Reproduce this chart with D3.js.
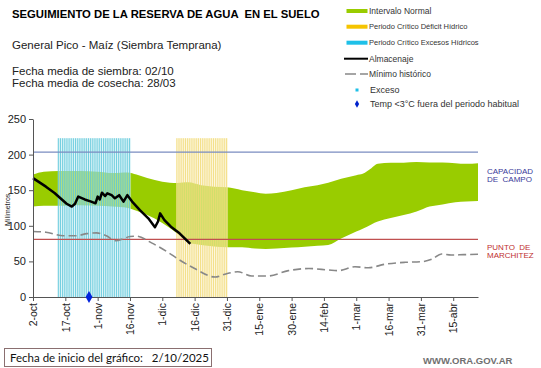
<!DOCTYPE html>
<html>
<head>
<meta charset="utf-8">
<script src="https://cdn.jsdelivr.net/npm/d3@7"></script>
<style>
  body { margin: 0; background: #fff; }
  svg { display: block; font-family: "Liberation Sans", Arial, sans-serif; }
</style>
</head>
<body>
<svg width="541" height="368"></svg>
<script>
// dia 0 = 2-oct
let tickDays = [0, 15, 30, 45, 60, 75, 90, 105, 120, 135, 150, 165, 180, 195]
let tickLabels = ["2-oct", "17-oct", "1-nov", "16-nov", "1-dic", "16-dic", "31-dic", "15-ene", "30-ene", "14-feb", "1-mar", "16-mar", "31-mar", "15-abr"]
let yTicks = [0, 50, 100, 150, 200, 250]

// intervalo normal (banda verde)
let bandDays = [0, 5, 12, 22, 30, 37, 44, 48, 53, 60, 67, 72, 78, 84, 90, 97, 103, 108, 113, 120, 126, 132, 137, 143, 150, 153, 157, 160, 166, 172, 178, 184, 190, 196, 201, 206.5]
let bandUpper = [172, 176, 177, 177, 176, 174, 175, 172, 167, 162, 160, 161, 157, 155, 154, 150, 147, 145, 146, 150, 154, 157, 160.5, 166, 171, 173, 181, 187, 188.5, 188.6, 189.5, 189, 189, 188, 187, 188]
let bandLower = [127, 128, 128, 129, 128, 127, 125, 121, 115, 104, 89, 77, 73, 71, 70, 70, 68, 67.5, 68, 69.5, 70.6, 72, 73, 82, 92, 96, 102, 106, 111, 115, 120, 127, 130, 133, 134, 135]

// almacenaje
let almDays = [0, 3, 6, 10, 15.6, 18, 19.5, 21, 24, 27, 29, 30, 31, 32, 33.5, 34.5, 36.5, 38, 40, 42, 43.8, 46, 49.6, 53.5, 56.6, 58, 59, 61, 64, 68, 73]
let almValues = [167, 161, 155, 146, 131, 127, 131, 141, 137, 134, 131.6, 141, 137, 146.5, 141.8, 145.6, 143, 138.6, 143, 134, 143, 134, 122, 110.5, 98, 106, 117.5, 108, 98.7, 89.5, 74.5]

// minimo historico
let minDays = [0, 6, 14, 20, 25, 29.5, 34, 38.5, 42, 45, 48, 55, 62, 68, 75, 84.5, 89, 95, 101.5, 109, 118.5, 128, 137, 141.7, 149.4, 155.6, 163.3, 172.6, 180.4, 185, 189.6, 194, 200, 206.5]
let minValues = [92, 91, 86, 86, 89, 90, 86, 79, 82, 85, 85.5, 76, 64, 52, 40, 28, 32, 35.5, 29.5, 29.5, 37, 40, 38, 37, 42.5, 41, 46, 48.7, 49.6, 53, 60.4, 59, 59.5, 60]

// periodos criticos (inicio, fin en dias) y alto de las barras
let excesoPeriodo = [12, 45]
let deficitPeriodo = [67, 90]
let periodoAlto = 223

let capacidadCampo = 203.5
let puntoMarchitez = 81
let heladaDias = [26]

let svg = d3.select("svg")

let xScale = d3.scaleLinear().domain([0, 206.5]).range([33, 478])
let yScale = d3.scaleLinear().domain([0, 250]).range([297, 119])
let dayW = xScale(1) - xScale(0)

// banda verde
let band = bandDays.map((d, i) => ({ d: d, hi: bandUpper[i], lo: bandLower[i] }))
svg.append("path")
    .datum(band)
    .attr("fill", "#99cc00")
    .attr("d", d3.area()
        .x(p => xScale(p.d))
        .y0(p => yScale(p.lo))
        .y1(p => yScale(p.hi))
        .curve(d3.curveMonotoneX))

// barras de periodos criticos
let drawPeriod = (range, bg, fill) => {
    let days = d3.range(range[0], range[1] + 1)
    let g = svg.append("g")
    g.append("rect")
        .attr("x", xScale(range[0]) - dayW / 2)
        .attr("width", xScale(range[1]) - xScale(range[0]) + dayW)
        .attr("y", yScale(periodoAlto))
        .attr("height", yScale(0) - yScale(periodoAlto))
        .attr("fill", bg)
        .attr("fill-opacity", 0.55)
    g.selectAll(".bar")
        .data(days)
        .enter()
        .append("rect")
        .attr("class", "bar")
        .attr("x", d => xScale(d) - dayW / 2)
        .attr("width", dayW * 0.5)
        .attr("y", yScale(periodoAlto))
        .attr("height", yScale(0) - yScale(periodoAlto))
        .attr("fill", fill)
        .attr("fill-opacity", 0.8)
}
drawPeriod(excesoPeriodo, "#c4ecf3", "#5ac6da")
drawPeriod(deficitPeriodo, "#fbf1c4", "#f0da74")

// lineas horizontales
svg.append("line")
    .attr("x1", xScale(0)).attr("x2", xScale(206.5))
    .attr("y1", yScale(capacidadCampo)).attr("y2", yScale(capacidadCampo))
    .attr("stroke", "#7a8cc0").attr("stroke-width", 1.2)
svg.append("line")
    .attr("x1", xScale(0)).attr("x2", xScale(206.5))
    .attr("y1", yScale(puntoMarchitez)).attr("y2", yScale(puntoMarchitez))
    .attr("stroke", "#c05050").attr("stroke-width", 1.2)

// minimo historico
svg.append("path")
    .datum(minDays.map((d, i) => [d, minValues[i]]))
    .attr("fill", "none")
    .attr("stroke", "#888")
    .attr("stroke-width", 1.6)
    .attr("stroke-dasharray", "8,4")
    .attr("d", d3.line().x(p => xScale(p[0])).y(p => yScale(p[1])).curve(d3.curveMonotoneX))

// almacenaje
svg.append("path")
    .datum(almDays.map((d, i) => [d, almValues[i]]))
    .attr("fill", "none")
    .attr("stroke", "#000")
    .attr("stroke-width", 2.5)
    .attr("stroke-linejoin", "round")
    .attr("d", d3.line().x(p => xScale(p[0])).y(p => yScale(p[1])))

// ejes
let yAxis = d3.axisLeft(yScale).tickValues(yTicks).tickSize(4).tickSizeOuter(0).tickPadding(3)
let gy = svg.append("g").attr("transform", "translate(33,0)").call(yAxis)
gy.selectAll("text").attr("font-size", 11).attr("fill", "#222").attr("font-family", "Liberation Sans")
gy.selectAll("line, path").attr("stroke", "#555")

let xAxis = d3.axisBottom(xScale).tickValues(tickDays).tickFormat((d, i) => tickLabels[i]).tickSize(4).tickSizeOuter(0)
let gx = svg.append("g").attr("transform", "translate(0,297)").call(xAxis)
gx.selectAll("line, path").attr("stroke", "#555")
gx.selectAll("text")
    .attr("font-size", 10.5)
    .attr("font-family", "Liberation Sans")
    .attr("fill", "#222")
    .attr("transform", "rotate(-90)")
    .attr("text-anchor", "end")
    .attr("x", -6)
    .attr("y", 0)
    .attr("dy", "0.35em")

// diamante temp < 3
svg.selectAll(".helada")
    .data(heladaDias)
    .enter()
    .append("path")
    .attr("class", "helada")
    .attr("transform", d => "translate(" + xScale(d) + "," + yScale(0) + ")")
    .attr("d", d3.symbol(d3.symbolDiamond, 40))
    .attr("fill", "#0022dd")

svg.append("text")
    .attr("transform", "translate(10,226) rotate(-90)")
    .attr("font-size", 7)
    .attr("fill", "#222")
    .text("Milímetros")

// etiquetas derechas
let rightText = (lines, y, color) => {
    lines.forEach((t, i) => {
        svg.append("text").attr("x", 487).attr("y", y + i * 8.5)
            .attr("font-size", 8).attr("fill", color)
            .style("white-space", "pre").text(t)
    })
}
rightText(["CAPACIDAD", "DE  CAMPO"], 173.5, "#3a3a9a")
rightText(["PUNTO  DE", "MARCHITEZ"], 249.5, "#c03030")

// titulos
svg.append("text").attr("x", 12).attr("y", 18).attr("font-size", 11.3).attr("font-weight", "bold")
    .attr("fill", "#000").style("white-space", "pre").text("SEGUIMIENTO DE LA RESERVA DE AGUA  EN EL SUELO")
svg.append("text").attr("x", 12).attr("y", 49).attr("font-size", 11.5).attr("fill", "#222")
    .text("General Pico - Maíz (Siembra Temprana)")
svg.append("text").attr("x", 12).attr("y", 75).attr("font-size", 11.5).attr("fill", "#222")
    .text("Fecha media de siembra: 02/10")
svg.append("text").attr("x", 12).attr("y", 87).attr("font-size", 11.5).attr("fill", "#222")
    .text("Fecha media de cosecha: 28/03")

// leyenda
let legendLabels = ["Intervalo Normal", "Periodo Crítico Déficit Hídrico", "Periodo Crítico Excesos Hídricos", "Almacenaje", "Mínimo histórico", "Exceso", "Temp <3°C fuera del periodo habitual"]
let legendY = [11, 26.7, 42.7, 58.7, 74, 90, 104]
let legendSize = [8.5, 7.5, 7.5, 8.5, 8.5, 9, 9]
let lg = svg.append("g")
lg.append("rect").attr("x", 346.5).attr("y", legendY[0] - 2).attr("width", 21).attr("height", 4).attr("fill", "#99cc00")
lg.append("rect").attr("x", 346.5).attr("y", legendY[1] - 2).attr("width", 21).attr("height", 4).attr("fill", "#f5c400")
lg.append("rect").attr("x", 346.5).attr("y", legendY[2] - 2).attr("width", 21).attr("height", 4).attr("fill", "#1ec0e8")
lg.append("line").attr("x1", 344).attr("x2", 368).attr("y1", legendY[3]).attr("y2", legendY[3])
    .attr("stroke", "#000").attr("stroke-width", 2)
lg.append("line").attr("x1", 345).attr("x2", 368).attr("y1", legendY[4]).attr("y2", legendY[4])
    .attr("stroke", "#888").attr("stroke-width", 1.6).attr("stroke-dasharray", "11,4")
lg.append("rect").attr("x", 355.5).attr("y", legendY[5] - 1.5).attr("width", 3).attr("height", 3).attr("fill", "#1ec0e8")
lg.append("path").attr("transform", "translate(357," + legendY[6] + ")")
    .attr("d", d3.symbol(d3.symbolDiamond, 16)).attr("fill", "#0022cc")
lg.selectAll("text")
    .data(legendLabels)
    .enter()
    .append("text")
    .attr("x", (d, i) => i < 5 ? 369 : 370)
    .attr("y", (d, i) => legendY[i])
    .attr("dy", "0.35em")
    .attr("font-size", (d, i) => legendSize[i])
    .attr("fill", "#333")
    .text(d => d)

// pie
svg.append("rect").attr("x", 4.5).attr("y", 348.5).attr("width", 207).attr("height", 18)
    .attr("fill", "#fff").attr("stroke", "#8a6f70").attr("stroke-width", 1)
svg.append("text").attr("x", 10).attr("y", 362).attr("font-size", 11.5).attr("font-family", "Lato")
    .attr("fill", "#111").style("white-space", "pre").text("Fecha de inicio del gráfico:   2/10/2025")
svg.append("text").attr("x", 423).attr("y", 364).attr("font-size", 9.5).attr("font-weight", "bold")
    .attr("fill", "#707070").text("WWW.ORA.GOV.AR")
</script>
</body>
</html>
